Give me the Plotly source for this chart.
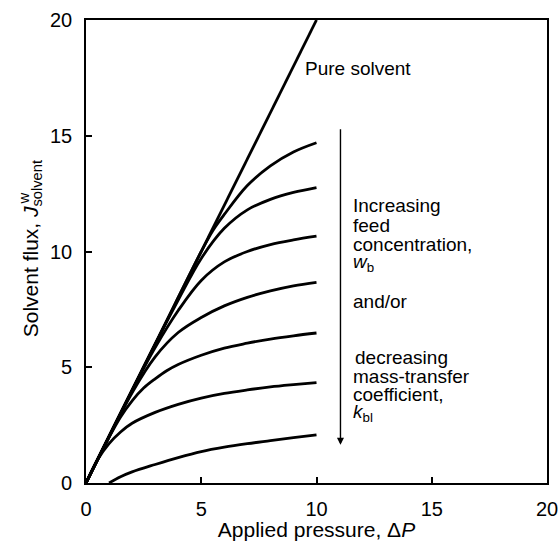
import plotly.graph_objects as go

# ---- data ----
pure_x = [0, 10]
pure_y = [0, 20]

c1_x = [0, 3, 5, 5.5, 6, 7, 8, 9, 10]
c1_y = [0, 6, 10, 10.9, 11.6, 12.85, 13.7, 14.3, 14.7]

c2_x = [0, 3, 4, 5, 6, 7, 8, 9, 10]
c2_y = [0, 6, 7.9, 9.7, 11.0, 11.8, 12.25, 12.55, 12.76]

c3_x = [0, 2, 3, 4, 5, 6, 7, 8, 9, 10]
c3_y = [0, 4, 5.85, 7.45, 8.75, 9.55, 10.0, 10.3, 10.5, 10.66]

c4_x = [0, 2, 3, 4, 5, 6, 7, 8, 9, 10]
c4_y = [0, 3.9, 5.45, 6.5, 7.15, 7.65, 8.02, 8.3, 8.52, 8.67]

c5_x = [0, 0.75, 1.5, 2, 2.5, 3, 3.5, 4, 5, 6, 7, 8, 9, 10]
c5_y = [0, 1.5, 2.85, 3.55, 4.1, 4.5, 4.85, 5.12, 5.52, 5.83, 6.04, 6.22, 6.36, 6.48]

c6_x = [0, 0.5, 1, 1.5, 2, 3, 4, 5, 6, 7, 8, 9, 10]
c6_y = [0, 1.0, 1.7, 2.2, 2.58, 3.05, 3.4, 3.67, 3.87, 4.02, 4.15, 4.25, 4.34]

c7_x = [1, 1.5, 2, 3, 4, 5, 6, 7, 8, 9, 10]
c7_y = [0, 0.27, 0.48, 0.8, 1.1, 1.36, 1.55, 1.7, 1.83, 1.96, 2.08]

tick_vals = [0, 5, 10, 15, 20]
tick_text = ["0", "5", "10", "15", "20"]

label_lines = ["Increasing", "feed", "concentration,", "<i>w</i><sub>b</sub>",
               "and/or", "decreasing", "mass-transfer", "coefficient,",
               "<i>k</i><sub>bl</sub>"]
label_x = [11.5, 11.5, 11.5, 11.5, 11.5, 11.6, 11.5, 11.5, 11.5]
label_y = [11.99, 11.13, 10.3, 9.52, 7.85, 5.4, 4.6, 3.81, 3.03]

arrow_x = 11.04
arrow_top = 15.35
arrow_bottom = 1.65

FONT = "Liberation Sans, Arial, Helvetica, sans-serif"
TICK_SIZE = 20
TITLE_SIZE = 21
NOTE_SIZE = 19

fig = go.Figure()
fig.add_trace(go.Scatter(x=pure_x, y=pure_y, mode="lines",
                         line=dict(color="black", width=2.8)))
for xs, ys in [(c1_x, c1_y), (c2_x, c2_y), (c3_x, c3_y), (c4_x, c4_y),
               (c5_x, c5_y), (c6_x, c6_y), (c7_x, c7_y)]:
    fig.add_trace(go.Scatter(x=xs, y=ys, mode="lines",
                             line=dict(color="black", width=2.8,
                                       shape="spline", smoothing=1.0)))

fig.add_annotation(x=9.4, y=17.9, text="Pure solvent", showarrow=False,
                   xanchor="left", yanchor="middle",
                   font=dict(size=NOTE_SIZE, color="black", family=FONT))

for t, lx, ly in zip(label_lines, label_x, label_y):
    fig.add_annotation(x=lx, y=ly, text=t, showarrow=False,
                       xanchor="left", yanchor="middle",
                       font=dict(size=NOTE_SIZE, color="black", family=FONT))

fig.add_annotation(x=arrow_x, y=arrow_bottom, ax=arrow_x, ay=arrow_top,
                   xref="x", yref="y", axref="x", ayref="y", text="",
                   showarrow=True, arrowhead=2, arrowsize=1.0,
                   arrowwidth=1.4, arrowcolor="black")

# y-axis title built from rotated annotations (stacked super/subscript)
fig.add_annotation(xref="paper", yref="paper", x=-0.117, y=0.505,
                   text="Solvent flux, <i>J</i><sub>solvent</sub>",
                   textangle=-90, showarrow=False,
                   xanchor="center", yanchor="middle",
                   font=dict(size=TITLE_SIZE, color="black", family=FONT))
fig.add_annotation(xref="paper", yref="paper", x=-0.136, y=0.615,
                   text="w", textangle=-90, showarrow=False,
                   xanchor="center", yanchor="middle",
                   font=dict(size=15, color="black", family=FONT))

axis_common = dict(range=[0, 20], tickvals=tick_vals, ticktext=tick_text,
                   ticks="inside", ticklen=6, tickwidth=1.5, tickcolor="black",
                   showline=True, linecolor="black", linewidth=1.6,
                   mirror=True, showgrid=False, zeroline=False,
                   tickfont=dict(size=TICK_SIZE, color="black", family=FONT))

fig.update_xaxes(**axis_common, ticklabelstandoff=7,
                 title=dict(text="Applied pressure, Δ<i>P</i>",
                            font=dict(size=TITLE_SIZE, color="black", family=FONT),
                            standoff=0))
fig.update_yaxes(**axis_common, ticklabelstandoff=8)

fig.update_layout(width=560, height=541, showlegend=False,
                  paper_bgcolor="white", plot_bgcolor="white",
                  margin=dict(l=86, r=13, t=20, b=58, autoexpand=False),
                  font=dict(family=FONT, color="black"))

# remove the default 8px page margin so the figure fills the window exactly
fig.write_html("out.html",
               config={"displayModeBar": False},
               post_script="document.body.style.margin='0';"
                           "document.body.style.overflow='hidden';")
